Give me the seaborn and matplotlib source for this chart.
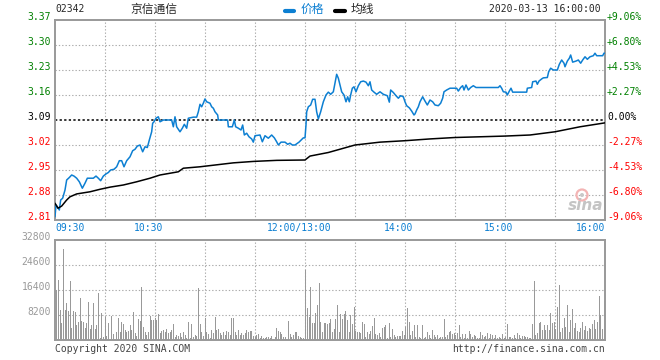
import numpy as np
import matplotlib
matplotlib.use('Agg')
import matplotlib.pyplot as plt
import matplotlib.transforms as mtrans
from matplotlib.lines import Line2D
from matplotlib.patches import Ellipse
import seaborn as sns

# header info
code = '02342'
name = '京信通信'
stamp = '2020-03-13 16:00:00'
prev_close = 3.09

price_ticks = [3.37, 3.30, 3.23, 3.16, 3.09, 3.02, 2.95, 2.88, 2.81]
pct_labels = ['+9.06%', '+6.80%', '+4.53%', '+2.27%', '0.00%',
              '-2.27%', '-4.53%', '-6.80%', '-9.06%']
vol_ticks = [32800, 24600, 16400, 8200]
time_ticks = [0, 60, 150, 210, 270, 330]
time_labels = ['09:30', '10:30', '12:00/13:00', '14:00', '15:00', '16:00']

# trading minutes since 09:30 (12:00 and 13:00 share minute 150)
price_min = [0, 0.6, 1.4, 2.6, 3.4, 4.6, 6, 7, 8.6, 10, 11.4, 13, 14.6, 16.4, 18,
             19.4, 23, 24.6, 26, 27.4, 29, 30.6, 32, 33.4, 35.4, 37, 38.6, 40,
             41.4, 43, 45, 46.6, 48, 49.4, 51, 52.6, 54, 55.4, 56.6, 58, 58.6,
             59.4, 60.6, 62, 63, 65, 70, 71, 72, 73, 75, 76.4, 77.6, 79, 80, 83,
             85, 86, 87, 88, 89, 90, 91, 93, 94, 95, 96, 97.6, 98, 103.6, 104,
             106.4, 107.6, 108.4, 110, 111.6, 112.6, 113.6, 115, 116.4, 118, 119,
             120, 123, 124.4, 126, 128, 130, 131.6, 133, 134, 135.6, 138, 139.6,
             141, 142.4, 144, 146.4, 149, 150,
             150.6, 151, 152, 153.4, 154.6, 156, 157, 158, 159.4, 161, 162.6, 164,
             165.4, 167, 168, 169, 170, 171, 172, 173.4, 174.6, 175.6, 176.6,
             177.4, 178.4, 179.4, 180.6, 182, 183.4, 185, 186.6, 188, 189, 190,
             191.4, 193, 195, 197, 199.4, 200.6, 201.4, 203, 204.6, 206, 207.4,
             209, 210, 211, 212.6, 214, 215.4, 216, 217, 218, 219, 220.6, 222,
             223.4, 225, 226.6, 228, 230, 231.4, 232.6, 233.4, 235, 237, 241, 242,
             243.4, 244.6, 245.4, 246.6, 248, 249.4, 251, 252.6, 266, 267, 268,
             269, 270.6, 271.4, 272.6, 273.6, 274.6, 283, 283.4, 286, 286.6, 288.6,
             289.4, 290.4, 292, 293, 295.4, 296.2, 297.4, 299, 301.4, 302.6, 304,
             305.4, 306, 307.4, 308.6, 309.4, 310.6, 312.6, 314, 315.4, 316.6, 318,
             319.4, 321, 323, 324, 325, 328.6, 329.4, 330]
price_val = [2.819, 2.852, 2.847, 2.838, 2.866, 2.871, 2.894, 2.922, 2.929, 2.936,
             2.933, 2.927, 2.917, 2.899, 2.913, 2.927, 2.927, 2.933, 2.927, 2.920,
             2.933, 2.939, 2.943, 2.950, 2.952, 2.959, 2.976, 2.976, 2.959, 2.976,
             2.987, 3.004, 3.008, 3.017, 3.020, 3.001, 3.015, 3.013, 3.034, 3.057,
             3.081, 3.085, 3.095, 3.099, 3.085, 3.090, 3.090, 3.071, 3.099, 3.071,
             3.057, 3.067, 3.078, 3.067, 3.095, 3.098, 3.098, 3.113, 3.134, 3.127,
             3.137, 3.149, 3.141, 3.137, 3.127, 3.123, 3.113, 3.104, 3.090, 3.090,
             3.071, 3.071, 3.090, 3.071, 3.067, 3.062, 3.076, 3.048, 3.053, 3.043,
             3.037, 3.028, 3.046, 3.048, 3.029, 3.046, 3.039, 3.048, 3.040, 3.029,
             3.020, 3.028, 3.028, 3.022, 3.025, 3.020, 3.020, 3.028, 3.040, 3.040,
             3.076, 3.113, 3.127, 3.132, 3.148, 3.148, 3.113, 3.093, 3.113, 3.141,
             3.160, 3.168, 3.162, 3.169, 3.193, 3.218, 3.207, 3.188, 3.169, 3.160,
             3.141, 3.155, 3.141, 3.160, 3.179, 3.183, 3.169, 3.186, 3.197, 3.199,
             3.196, 3.186, 3.197, 3.174, 3.168, 3.162, 3.169, 3.162, 3.158, 3.140,
             3.174, 3.167, 3.158, 3.151, 3.158, 3.155, 3.141, 3.130, 3.124, 3.115,
             3.104, 3.107, 3.118, 3.127, 3.141, 3.155, 3.143, 3.132, 3.146, 3.141,
             3.132, 3.130, 3.137, 3.151, 3.169, 3.174, 3.179, 3.179, 3.171, 3.181,
             3.186, 3.174, 3.188, 3.174, 3.181, 3.186, 3.181, 3.181, 3.186, 3.179,
             3.169, 3.168, 3.160, 3.171, 3.179, 3.168, 3.168, 3.179, 3.181, 3.197,
             3.199, 3.190, 3.199, 3.205, 3.208, 3.209, 3.225, 3.235, 3.230, 3.230,
             3.246, 3.258, 3.249, 3.239, 3.255, 3.263, 3.272, 3.252, 3.255, 3.258,
             3.249, 3.258, 3.267, 3.260, 3.267, 3.270, 3.277, 3.270, 3.270, 3.277,
             3.277]

avg_min = [0, 1.8, 4, 7, 9, 13, 21, 27, 33, 41, 49, 57, 63, 74, 77, 87, 107, 119,
           133, 150, 153, 164, 180, 195, 210, 225, 240, 270, 285, 300, 315, 330]
avg_val = [2.857, 2.843, 2.849, 2.866, 2.875, 2.883, 2.889, 2.896, 2.902, 2.908,
           2.917, 2.927, 2.936, 2.945, 2.955, 2.959, 2.970, 2.974, 2.977, 2.978,
           2.989, 2.999, 3.020, 3.028, 3.032, 3.037, 3.041, 3.045, 3.048, 3.057,
           3.071, 3.082]

vol_am = [16400, 19700, 9800, 5500, 29800, 9800, 12000, 9500, 19300, 3800, 9500,
          9300, 4900, 5800, 13700, 6200, 5800, 3800, 5500, 12400, 3600, 4900,
          12000, 3600, 4900, 15300, 500, 8700, 1100, 7700, 1400, 5500, 4900, 7900,
          1900, 1900, 2500, 7100, 2700, 5800, 5100, 3300, 2700, 3000, 4900, 3300,
          9100, 2200, 1400, 6900, 6200, 17300, 4400, 2700, 1600, 2700, 8000, 6600,
          6600, 7100, 6600, 8400, 2200, 3000, 3300, 2700, 3600, 2200, 2700, 3300,
          5100, 1100, 1600, 1400, 2200, 1100, 2500, 1600, 500, 5800, 800, 5100,
          1100, 1600, 1400, 16900, 5100, 2700, 1400, 7100, 2500, 1900, 500, 3300,
          2200, 7700, 3300, 3600, 2200, 1600, 2700, 1600, 3000, 2500, 1600, 7300,
          7300, 2700, 1600, 3300, 1600, 2200, 1600, 2200, 3300, 2700, 3000, 3000,
          1400, 1100, 1600, 1900, 500, 1300, 800, 500, 1100, 1100, 500, 1400, 300,
          1100, 3800, 3000, 2700, 1900, 1100, 1100, 300, 6200, 1900, 1100, 1600,
          2700, 2500, 1400, 1100, 800, 800]
vol_pm = [23000, 10600, 7700, 17500, 5500, 5500, 8700, 11500, 18600, 6000, 2700,
          5500, 5700, 5100, 5500, 6900, 2700, 3500, 6900, 11500, 2500, 8400, 6900,
          8400, 9500, 6600, 2700, 8200, 5100, 10900, 3000, 2700, 2500, 2200, 5800,
          5100, 1100, 2700, 1900, 3000, 4700, 7100, 1900, 1600, 2200, 1100, 3800,
          4400, 4900, 800, 5500, 1100, 3600, 1600, 1100, 1400, 1400, 1400, 3000,
          1600, 4400, 10400, 5800, 1600, 3000, 4900, 1100, 4900, 1100, 800, 4900,
          800, 1100, 2700, 1600, 800, 3300, 1600, 1100, 1600, 800, 1100, 1100,
          6900, 1100, 1600, 2700, 3000, 1900, 2200, 1600, 2200, 4900, 1100, 1900,
          800, 1900, 800, 3000, 1900, 1100, 1600, 1400, 800, 800, 2500, 1600, 1100,
          1400, 2200, 800, 1900, 1600, 500, 1600, 800, 1100, 500, 1900, 500, 1100,
          5100, 1100, 1100, 500, 1600, 800, 2200, 1600, 800, 1400, 1400, 1100, 1100,
          500, 800, 5100, 19300, 1600, 2200, 5500, 5800, 3300, 4900, 3300, 4900,
          3300, 8700, 5500, 5800, 3600, 10900, 18000, 2700, 3800, 7100, 4400, 11500,
          2700, 6600, 10200, 3800, 5500, 3000, 2700, 4000, 5800, 3300, 4700, 3000,
          3800, 3600, 5100, 6600, 3600, 5800, 14500, 8200, 3600, 12800]

BLUE = '#0c7fd2'
GREEN = '#008000'
RED = '#ff0000'
GRAY = '#999999'
GRID = '#aaaaaa'

sns.set_style('white')
plt.rcParams['font.family'] = ['DejaVu Sans Mono', 'Noto Sans CJK SC']
plt.rcParams['font.size'] = 7

W, H = 660, 360
fig = plt.figure(figsize=(W / 100, H / 100), dpi=100)
fig.patch.set_facecolor('white')


def fx(x):
    return x / W


def fy(y):
    return 1 - y / H


ax = fig.add_axes([fx(55), fy(220), fx(550), 200 / H])
axv = fig.add_axes([fx(55), fy(340), fx(550), 100 / H])

# price and average lines
sns.lineplot(x=price_min, y=price_val, ax=ax, color=BLUE, lw=1.1,
             estimator=None, sort=False, zorder=4)
sns.lineplot(x=avg_min, y=avg_val, ax=ax, color='black', lw=1.1,
             estimator=None, sort=False, zorder=4)

# volume bars
vol_x = list(np.arange(1, len(vol_am) + 1)) + list(150.5 + np.arange(len(vol_pm)))
vol_y = vol_am + vol_pm
sns.barplot(x=vol_x, y=vol_y, ax=axv, native_scale=True, orient='x', color=GRAY,
            saturation=1, width=0.6, linewidth=0, errorbar=None, zorder=3)

grid_kw = dict(color=GRID, lw=0.8, dashes=(1.2, 1.8), zorder=1)
for a in (ax, axv):
    a.set_xlim(0, 330)
    for t in range(30, 330, 30):
        a.axvline(t, **grid_kw)
    a.set_xticks([])
    a.set_yticks([])
    a.set_xlabel('')
    a.set_ylabel('')
    for s in a.spines.values():
        s.set_color(GRAY)
        s.set_linewidth(1.4)

ax.set_ylim(2.81, 3.37)
for p in price_ticks[1:-1]:
    if abs(p - prev_close) < 1e-6:
        ax.axhline(p, color='black', lw=1.1, dashes=(1.5, 1.5), zorder=2)
    else:
        ax.axhline(p, **grid_kw)

axv.set_ylim(0, 32800)
for v in vol_ticks[1:]:
    axv.axhline(v, **grid_kw)

# left / right labels of price panel
tr = mtrans.blended_transform_factory(fig.transFigure, ax.transData)
for p, pct in zip(price_ticks, pct_labels):
    if abs(p - prev_close) < 1e-6:
        c = 'black'
    elif p > prev_close:
        c = GREEN
    else:
        c = RED
    ax.text(fx(51), p, '%.2f' % p, transform=tr, ha='right', va='baseline',
            color=c, fontsize=7)
    ax.text(fx(607), p, pct, transform=tr, ha='left', va='baseline',
            color=c, fontsize=7)

trv = mtrans.blended_transform_factory(fig.transFigure, axv.transData)
for v in vol_ticks:
    axv.text(fx(51), v, str(v), transform=trv, ha='right', va='baseline',
             color=GRAY, fontsize=7)

# time labels
trt = mtrans.blended_transform_factory(ax.transData, fig.transFigure)
for t, lab in zip(time_ticks, time_labels):
    if t == 0:
        ax.text(t, fy(228), lab, transform=trt, ha='left', va='center',
                color=BLUE, fontsize=7)
    elif t == 330:
        ax.text(t, fy(228), lab, transform=trt, ha='right', va='center',
                color=BLUE, fontsize=7)
    else:
        ax.text(t - 3.6, fy(228), lab, transform=trt, ha='center', va='center',
                color=BLUE, fontsize=7)

# header
fig.text(fx(55), fy(9), code, ha='left', va='center', fontsize=7)
fig.text(fx(130), fy(9), name, ha='left', va='center', fontsize=8.5,
         family=['Noto Sans CJK SC'])
fig.add_artist(Line2D([fx(285), fx(294)], [fy(11), fy(11)], color=BLUE, lw=3))
fig.text(fx(301), fy(9), '价格', ha='left', va='center', fontsize=8.5,
         color=BLUE, family=['Noto Sans CJK SC'])
fig.add_artist(Line2D([fx(335), fx(345)], [fy(11), fy(11)], color='black', lw=3))
fig.text(fx(351), fy(9), '均线', ha='left', va='center', fontsize=8.5,
         family=['Noto Sans CJK SC'])
fig.text(fx(601), fy(9), stamp, ha='right', va='center', fontsize=7)

# footer and watermark
fig.text(fx(55), fy(349), 'Copyright 2020 SINA.COM', ha='left', va='center',
         fontsize=7, color='#444444')
fig.text(fx(605), fy(349), 'http://finance.sina.com.cn', ha='right', va='center',
         fontsize=7, color='#444444')
fig.add_artist(Ellipse((fx(582), fy(195)), fx(11), 11 / H, facecolor='none',
                       edgecolor='#f3b4b4', lw=1.6))
fig.add_artist(Ellipse((fx(582), fy(195)), fx(4), 4 / H, facecolor='#c8c8c8',
                       edgecolor='none'))
fig.text(fx(586), fy(205), 'sina', ha='center', va='center', fontsize=11,
         style='italic', weight='bold', color='#c4c4c4', family=['DejaVu Sans'])

fig.savefig('out.png', dpi=100)
